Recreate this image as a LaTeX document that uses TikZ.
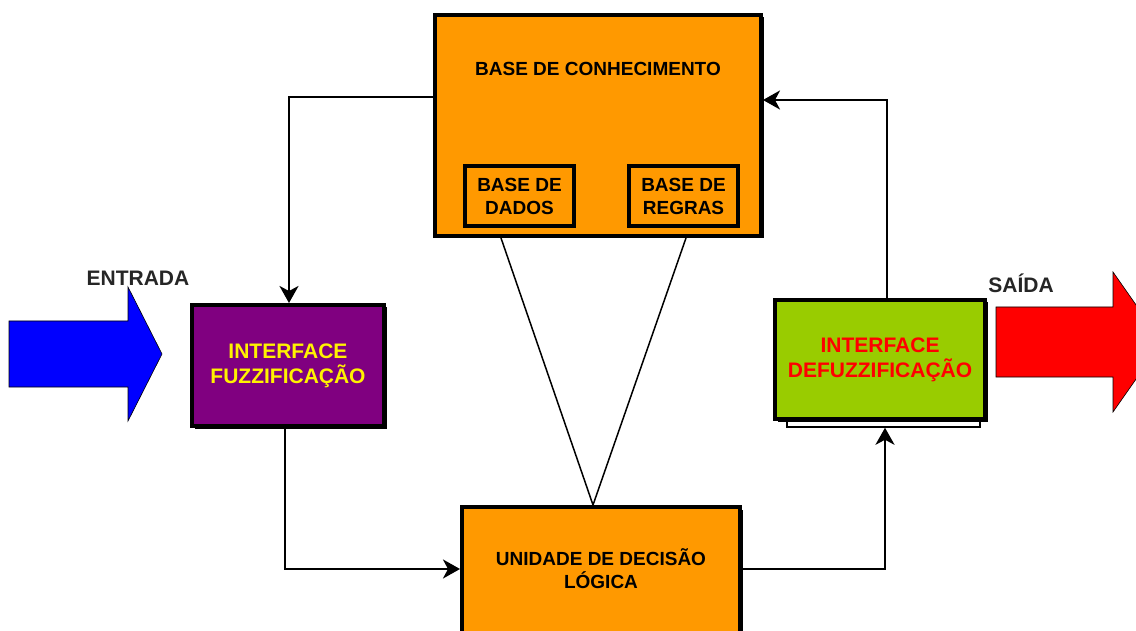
\documentclass[tikz,border=0pt]{standalone}
\usepackage{fontspec}
\setmainfont{Liberation Sans}
\usetikzlibrary{arrows.meta,shadows}
\definecolor{borange}{HTML}{FF9900}
\definecolor{bpurple}{HTML}{800080}
\definecolor{bgreen}{HTML}{99CC00}
\begin{document}
\begin{tikzpicture}[x=1pt,y=-1pt,
  box/.style={draw=black, line width=4pt, inner sep=0pt, align=center,
    drop shadow={shadow xshift=2.5pt, shadow yshift=-2.5pt, fill=black, opacity=1}},
  subbox/.style={draw=black, line width=4pt, inner sep=0pt, align=center, fill=borange},
  conn/.style={line width=2.6pt, -{Stealth[length=17pt,width=19pt,inset=5pt]}},
  lbl/.style={font=\fontsize{19}{23}\selectfont\bfseries, align=center, inner sep=0pt},
  big/.style={font=\fontsize{21}{25}\selectfont\bfseries, align=center, inner sep=0pt}]
\useasboundingbox (0,0) rectangle (1136,631);
\clip (0,0) rectangle (1136,631);
\fill[white] (0,0) rectangle (1136,631);

% input / output arrows
\filldraw[fill=blue, draw=black, line width=0.6pt]
  (9,321) -- (128,321) -- (128,287) -- (162,354) -- (128,421) -- (128,387) -- (9,387) -- cycle;
\filldraw[fill=red, draw=black, line width=0.6pt]
  (996,307) -- (1113,307) -- (1113,272) -- (1162,342) -- (1113,412) -- (1113,377) -- (996,377) -- cycle;
\node[big, text=black!85] (entrada) at (138,278) {ENTRADA};
\node[big, text=black!85] (saida) at (1021,283) {SAÍDA};

% knowledge base
\node[box, fill=borange, minimum width=326pt, minimum height=221pt] (kb) at (598,125.5) {};
\node[lbl] (kbt) at (598,69) {BASE DE CONHECIMENTO};
\node[subbox, minimum width=109pt, minimum height=60pt, lbl] (dados) at (519.5,196) {BASE DE\\DADOS};
\node[subbox, minimum width=109pt, minimum height=60pt, lbl] (regras) at (683.5,196) {BASE DE\\REGRAS};

% fuzzification
\node[box, fill=bpurple, minimum width=192pt, minimum height=121pt, big, text=yellow] (fuzz) at (288,365.5) {INTERFACE\\FUZZIFICAÇÃO};

% defuzzification
\node[draw=black, fill=white, line width=1.5pt, minimum width=193pt, minimum height=6pt, inner sep=0pt] (dfx) at (883.5,424) {};
\node[box, fill=bgreen, minimum width=210pt, minimum height=119pt, big, text=red] (defuzz) at (880,359.5) {INTERFACE\\DEFUZZIFICAÇÃO};

% decision unit (extends below the picture)
\node[box, fill=borange, minimum width=278pt, minimum height=151pt] (ud) at (601,582.5) {};
\node[lbl] (udt) at (601,569) {UNIDADE DE DECISÃO\\LÓGICA};

% connectors
\draw[conn] (kb.west |- 0,97) -| (fuzz.north -| 289,0);
\draw[conn] (fuzz.south -| 285,0) |- (ud.west |- 0,569);
\draw[conn] (ud.east |- 0,569) -| (dfx.south -| 885,0);
\draw[conn] (defuzz.north -| 887,0) |- (kb.east |- 0,100);
\draw[line width=1.5pt] (kb.south -| 501,0) -- (ud.north -| 593,0) -- (kb.south -| 686,0);
\end{tikzpicture}
\end{document}
